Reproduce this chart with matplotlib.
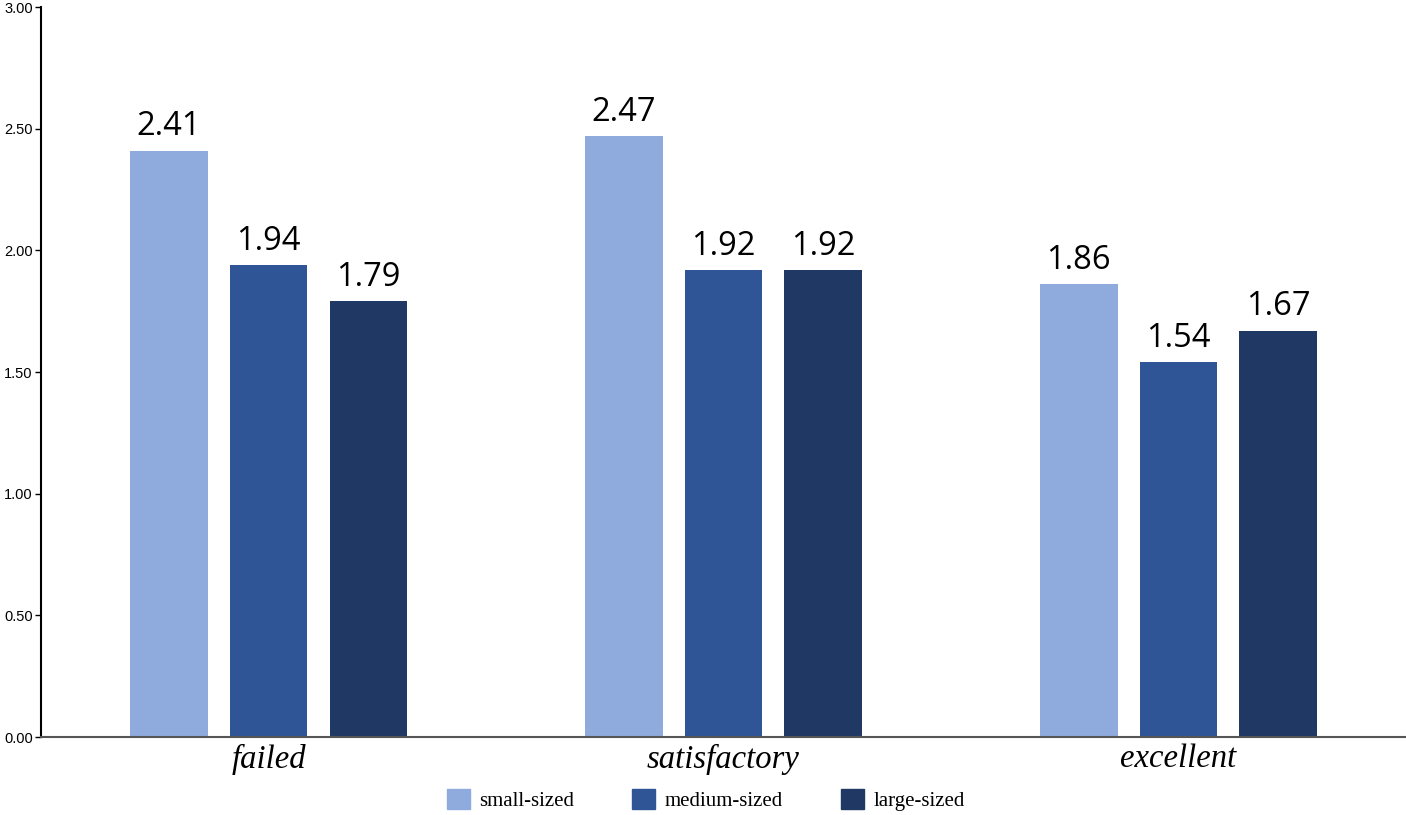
import numpy as np
import matplotlib.pyplot as plt
from matplotlib.patches import Patch

categories = ['failed', 'satisfactory', 'excellent']
series = ['small-sized', 'medium-sized', 'large-sized']
small = [2.41, 2.47, 1.86]
medium = [1.94, 1.92, 1.54]
large = [1.79, 1.92, 1.67]
colors = ['#8FAADC', '#2F5597', '#203864']

fig = plt.figure(figsize=(14.06, 8.15), dpi=100)
ax = fig.add_axes([0.0292, 0.0957, 0.9708, 0.8957])

x = np.arange(len(categories))
w = 0.171
step = 0.2195
for i, vals in enumerate([small, medium, large]):
    xs = x + (i - 1) * step
    ax.bar(xs, vals, width=w, color=colors[i])
    for xi, v in zip(xs, vals):
        ax.text(xi, v + 0.03, f'{v:.2f}', ha='center', va='bottom',
                fontsize=23.5, family='Open Sans')

ax.set_xlim(-0.5, 2.5)
ax.set_ylim(0, 3)
ticks = np.arange(0, 3.01, 0.5)
ax.set_yticks(ticks)
ax.set_yticklabels([f'{t:.2f}' for t in ticks], family='Liberation Sans', fontsize=10.5)
ax.set_xticks(x)
ax.set_xticklabels(categories, family='Liberation Serif', style='italic', fontsize=23.5)
ax.tick_params(axis='x', length=0, pad=5)
ax.tick_params(axis='y', length=4, width=1, pad=2)

ax.spines['top'].set_visible(False)
ax.spines['right'].set_visible(False)
ax.spines['left'].set_linewidth(1.5)
ax.spines['bottom'].set_color('#555555')
ax.spines['bottom'].set_linewidth(1.5)

handles = [Patch(color=c) for c in colors]
fig.legend(handles, series, loc='center', bbox_to_anchor=(0.502, 0.018), ncol=3,
           frameon=False, prop={'family': 'Liberation Serif', 'size': 15},
           handlelength=1.1, handleheight=1.1, columnspacing=2.8, handletextpad=0.45)

fig.savefig('out.png', dpi=100)
